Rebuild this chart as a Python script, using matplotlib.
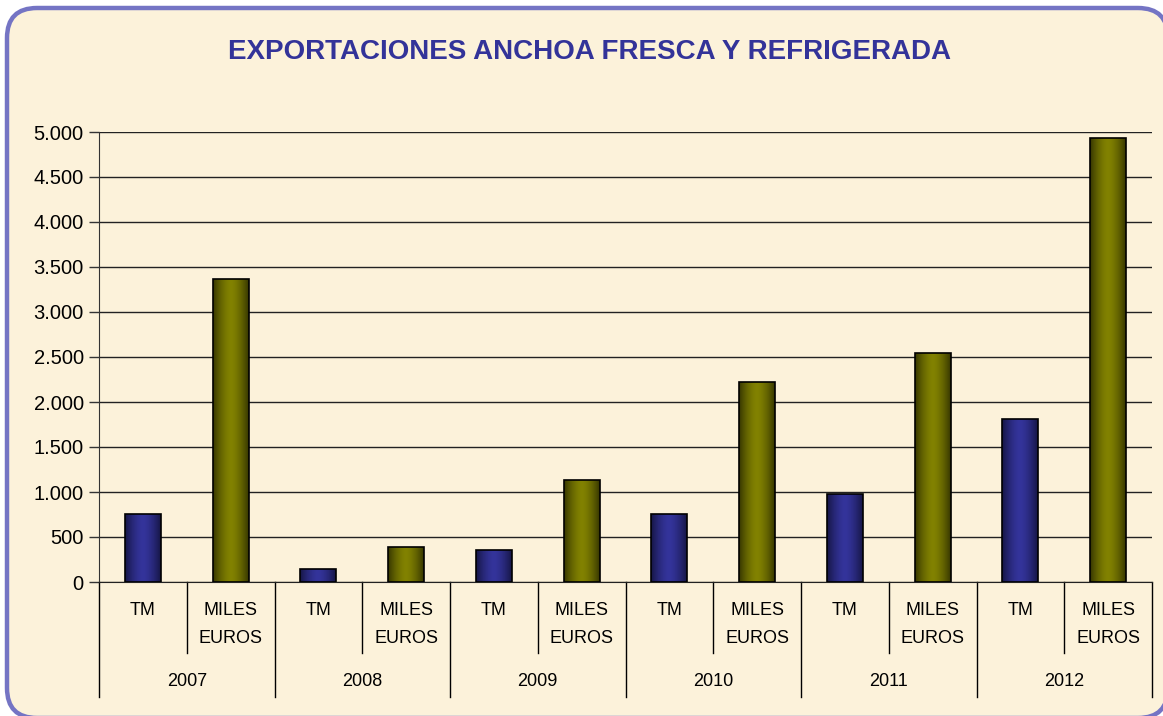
import numpy as np
import matplotlib
matplotlib.use("Agg")
import matplotlib.pyplot as plt
from matplotlib.patches import FancyBboxPatch
from matplotlib.ticker import FuncFormatter, MultipleLocator
from matplotlib.lines import Line2D

years = ["2007", "2008", "2009", "2010", "2011", "2012"]
sub_labels = ["TM", "MILES\nEUROS"]
tm_values = [760, 150, 355, 760, 980, 1815]
miles_euros_values = [3370, 390, 1130, 2220, 2540, 4930]
title = "EXPORTACIONES ANCHOA FRESCA Y REFRIGERADA"

FONT = ["Liberation Sans", "DejaVu Sans"]
plt.rcParams["font.family"] = FONT

W, H = 1163, 716
fig = plt.figure(figsize=(W / 100, H / 100), dpi=100)
fig.patch.set_facecolor("white")

# rounded frame background
fx0, fy0, fx1, fy1 = 7, 8, 1168, 718
frame = FancyBboxPatch((fx0 / W, 1 - fy1 / H), (fx1 - fx0) / W, (fy1 - fy0) / H,
                       boxstyle="round,pad=0,rounding_size=%f" % (30 / W), mutation_aspect=W / H,
                       transform=fig.transFigure, facecolor="#FCF2DA", edgecolor="#7474C4",
                       linewidth=3.2, zorder=-5, clip_on=False)
fig.patches.append(frame)

ax = fig.add_axes([99 / W, 1 - 582 / H, (1152 - 99) / W, 450 / H])
ax.set_facecolor("none")
ax.set_zorder(2)

n = len(years)
x_tm = [2 * i for i in range(n)]
x_me = [2 * i + 1 for i in range(n)]
w = 0.41
bars_tm = ax.bar(x_tm, tm_values, width=w, color="#333399", edgecolor="black", linewidth=1.2, zorder=3)
bars_me = ax.bar(x_me, miles_euros_values, width=w, color="#808000", edgecolor="black", linewidth=1.2, zorder=3)

def shade(bars, edge_rgb, mid_rgb):
    t = np.linspace(0, 1, 64)
    prof = 1 - (2 * np.abs(t - 0.5)) ** 1.6
    edge = np.array(edge_rgb) / 255.0
    mid = np.array(mid_rgb) / 255.0
    img = edge[None, :] + (mid - edge)[None, :] * prof[:, None]
    img = img[None, :, :]
    for b in bars:
        x0, y0 = b.get_x(), b.get_y()
        im = ax.imshow(img, extent=[x0, x0 + b.get_width(), y0, y0 + b.get_height()],
                       aspect="auto", zorder=3.5, interpolation="bilinear")
        im.set_clip_path(b)
        b.set_facecolor("none")
        b.set_zorder(4)

shade(bars_tm, (22, 22, 70), (52, 52, 155))
shade(bars_me, (55, 55, 0), (130, 130, 0))

ax.set_xlim(-0.5, 2 * n - 0.5)
ax.set_ylim(0, 5000)
ax.yaxis.set_major_locator(MultipleLocator(500))
ax.yaxis.set_major_formatter(FuncFormatter(lambda v, p: f"{int(v):,}".replace(",", ".")))
ax.grid(axis="y", color="#222222", linewidth=1.0, zorder=1)
ax.set_axisbelow(True)
ax.tick_params(axis="y", length=7, width=1, color="#333333", labelsize=14.5, pad=4, labelcolor="black")
ax.set_xticks([])
for s in ["top", "right"]:
    ax.spines[s].set_visible(False)
ax.spines["left"].set_color("#333333")
ax.spines["bottom"].set_color("#222222")

tr = ax.get_xaxis_transform()
# separator lines below axis
for i in range(n):
    ax.add_line(Line2D([2 * i + 0.5] * 2, [0, -0.158], transform=tr, color="black", lw=1, clip_on=False))
for i in range(n + 1):
    ax.add_line(Line2D([2 * i - 0.5] * 2, [0, -0.256], transform=tr, color="black", lw=1, clip_on=False))

for i in range(n):
    ax.text(2 * i, -0.064, sub_labels[0], transform=tr, ha="center", va="center", fontsize=13)
    ax.text(2 * i + 1, -0.0935, sub_labels[1], transform=tr, ha="center", va="center", fontsize=13,
            linespacing=1.85)
    ax.text(2 * i + 0.5, -0.222, years[i], transform=tr, ha="center", va="center", fontsize=13)

fig.text(0.507, 1 - 52 / H, title, ha="center", va="center", fontsize=20, fontweight="bold",
         color="#333399")

fig.savefig("out.png", dpi=100, facecolor=fig.get_facecolor())
